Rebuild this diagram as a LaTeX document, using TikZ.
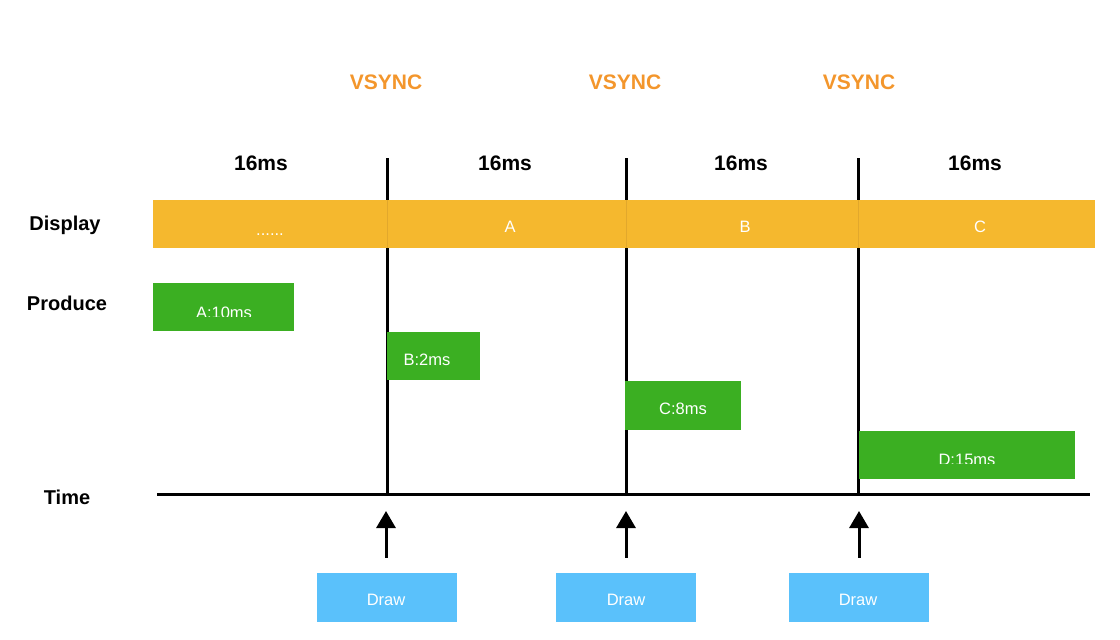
\documentclass[tikz,border=0pt]{standalone}
\usepackage{fontspec}
\setmainfont{Liberation Sans}
\usetikzlibrary{arrows.meta}
\definecolor{barorange}{RGB}{245,184,46}
\definecolor{seam}{RGB}{226,168,44}
\definecolor{vsync}{RGB}{243,150,44}
\definecolor{prodgreen}{RGB}{59,175,34}
\definecolor{drawblue}{RGB}{90,193,251}
\tikzset{
  head/.style={font=\bfseries\fontsize{21}{25}\selectfont, inner sep=0pt},
  vsynclabel/.style={head, text=vsync},
  rowlabel/.style={font=\bfseries\fontsize{20}{24}\selectfont, inner sep=0pt},
  wtext/.style={text=white, font=\fontsize{16.5}{20}\selectfont, inner sep=0pt},
  prodbox/.style={fill=prodgreen, draw=none},
  drawbox/.style={fill=drawblue, draw=none, minimum width=140pt, minimum height=49pt, inner sep=0pt},
  vline/.style={line width=3pt, black},
  axis/.style={line width=3pt, black},
  up/.style={line width=3pt, -{Triangle[width=19pt,length=17pt]}},
}
\begin{document}
\begin{tikzpicture}[x=1pt,y=-1pt]
\useasboundingbox (0,0) rectangle (1120,640);

% vsync lines and time axis
\coordinate (v1t) at (387,158); \coordinate (v1b) at (387,494);
\coordinate (v2t) at (626,158); \coordinate (v2b) at (626,494);
\coordinate (v3t) at (858,158); \coordinate (v3b) at (858,494);
\coordinate (ax0) at (157,494); \coordinate (ax1) at (1090,494);
\draw[vline] (v1t) -- (v1b);
\draw[vline] (v2t) -- (v2b);
\draw[vline] (v3t) -- (v3b);
\draw[axis] (ax0) -- (ax1);

% display bar
\fill[barorange] (153,200) rectangle (1095,248);
\draw[seam, line width=1pt] (387,200) -- (387,248);
\draw[seam, line width=1pt] (626,200) -- (626,248);
\draw[seam, line width=1pt] (858,200) -- (858,248);
\node[wtext, anchor=base] (dots) at (270,235) {......};
\node[wtext, anchor=base] (fa) at (510,232) {A};
\node[wtext, anchor=base] (fb) at (745,232) {B};
\node[wtext, anchor=base] (fc) at (980,232) {C};

% headings
\node[vsynclabel] (vs1) at (386,82) {VSYNC};
\node[vsynclabel] (vs2) at (625,82) {VSYNC};
\node[vsynclabel] (vs3) at (859,82) {VSYNC};
\node[head] (p1) at (261,163) {16ms};
\node[head] (p2) at (505,163) {16ms};
\node[head] (p3) at (741,163) {16ms};
\node[head] (p4) at (975,163) {16ms};

\node[rowlabel] (ldisp) at (65,225) {Display};
\node[rowlabel] (lprod) at (67,303) {Produce};
\node[rowlabel] (ltime) at (67,497) {Time};

% produced frames
\fill[prodgreen] (153,283) rectangle (294,331);
\begin{scope}
  \clip (153,283) rectangle (294,316.5);
  \node[wtext, anchor=base] (ta) at (224,318) {A:10ms};
\end{scope}
\fill[prodgreen] (387,332) rectangle (480,380);
\node[wtext, anchor=base] (tb) at (427,365) {B:2ms};
\fill[prodgreen] (625,381) rectangle (741,430);
\node[wtext, anchor=base] (tc) at (683,414) {C:8ms};
\fill[prodgreen] (859,431) rectangle (1075,479);
\begin{scope}
  \clip (859,431) rectangle (1075,463.5);
  \node[wtext, anchor=base] (td) at (967,465) {D:15ms};
\end{scope}

% draw calls
\node[drawbox] (d1) at (387,597.5) {};
\node[drawbox] (d2) at (626,597.5) {};
\node[drawbox] (d3) at (859,597.5) {};
\node[wtext, anchor=base] (dt1) at (386,605) {Draw};
\node[wtext, anchor=base] (dt2) at (626,605) {Draw};
\node[wtext, anchor=base] (dt3) at (858,605) {Draw};

\coordinate (a1) at (386,511); \coordinate (a2) at (626,511); \coordinate (a3) at (859,511);
\draw[up] ([xshift=-1pt,yshift=15pt]d1.north) -- (a1);
\draw[up] ([yshift=15pt]d2.north) -- (a2);
\draw[up] ([yshift=15pt]d3.north) -- (a3);
\end{tikzpicture}
\end{document}
